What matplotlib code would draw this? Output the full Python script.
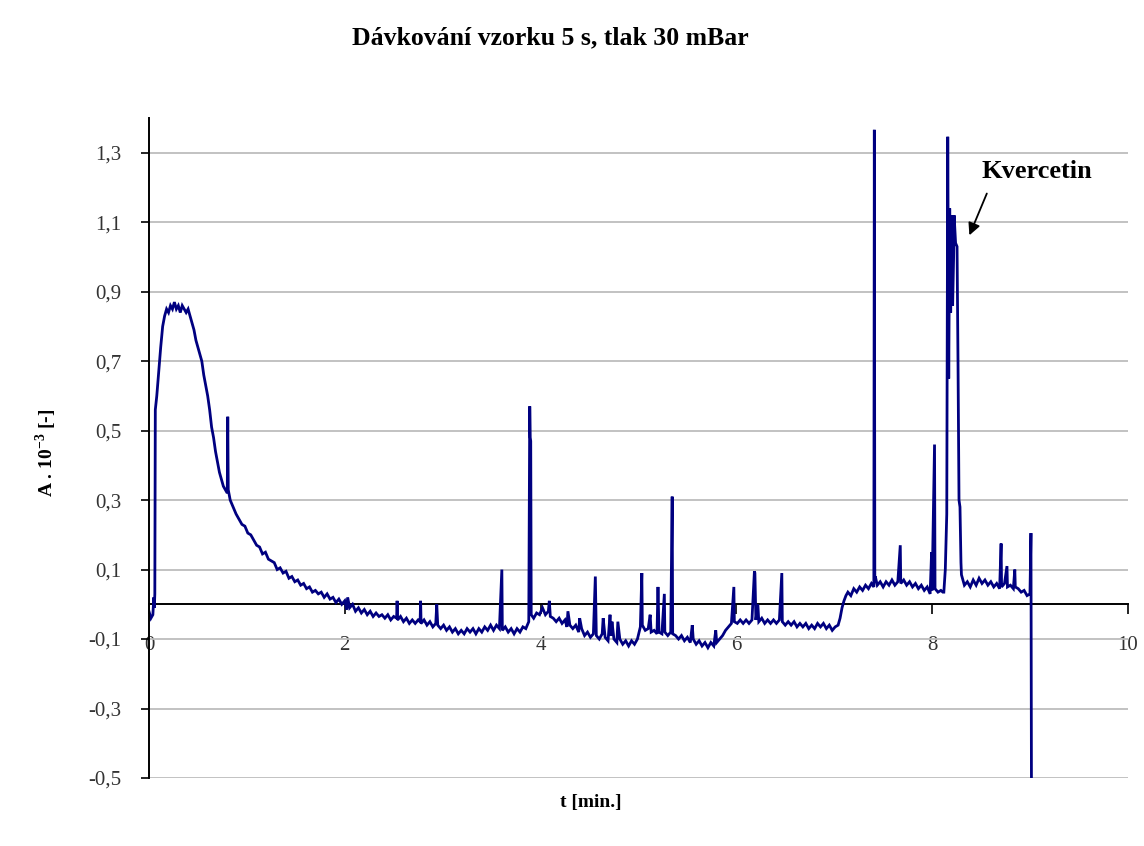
import matplotlib
matplotlib.use("Agg")
import matplotlib.pyplot as plt
import numpy as np
from matplotlib.ticker import FuncFormatter

plt.rcParams['font.family'] = ['Liberation Serif', 'DejaVu Serif']
plt.rcParams['mathtext.fontset'] = 'custom'
plt.rcParams['mathtext.rm'] = 'Liberation Serif:bold'
plt.rcParams['mathtext.bf'] = 'Liberation Serif:bold'

# electropherogram, split into segments (t in min, A . 10^-3)
t_inject = [0.00, 0.02, 0.04, 0.05, 0.055, 0.06, 0.065, 0.08, 0.10, 0.12, 0.14, 0.16,
            0.18, 0.20, 0.22, 0.24, 0.26, 0.28, 0.30, 0.32, 0.34, 0.36, 0.38, 0.40,
            0.42, 0.44, 0.46, 0.48, 0.50, 0.52, 0.54, 0.56, 0.58, 0.60]
a_inject = [-0.02, -0.04, -0.03, 0.02, -0.01, 0.03, 0.56, 0.60, 0.67, 0.74, 0.80, 0.83,
            0.85, 0.84, 0.86, 0.85, 0.87, 0.85, 0.86, 0.84, 0.86, 0.85, 0.84, 0.85,
            0.83, 0.81, 0.79, 0.76, 0.74, 0.72, 0.70, 0.66, 0.63, 0.60]

t_decay = [0.62, 0.64, 0.66, 0.68, 0.70, 0.72, 0.74, 0.76, 0.78, 0.80, 0.805, 0.81,
           0.83, 0.86, 0.89, 0.92, 0.95, 0.98, 1.01, 1.04, 1.07, 1.10, 1.13, 1.16,
           1.19, 1.22, 1.25, 1.28, 1.31, 1.34, 1.37, 1.40, 1.43, 1.46, 1.49, 1.52,
           1.55, 1.58, 1.61, 1.64, 1.67, 1.70, 1.73, 1.76, 1.79, 1.82, 1.85, 1.88,
           1.91, 1.94, 1.97, 2.00, 2.02, 2.03, 2.05, 2.08, 2.11, 2.14, 2.17, 2.20,
           2.23, 2.26, 2.29, 2.32, 2.35, 2.38, 2.41, 2.44, 2.47, 2.50]
a_decay = [0.56, 0.51, 0.48, 0.44, 0.41, 0.38, 0.36, 0.34, 0.33, 0.32, 0.54, 0.33,
           0.30, 0.28, 0.26, 0.245, 0.23, 0.225, 0.205, 0.20, 0.185, 0.17, 0.165, 0.145,
           0.15, 0.13, 0.125, 0.12, 0.10, 0.105, 0.09, 0.095, 0.075, 0.08, 0.065, 0.07,
           0.055, 0.06, 0.045, 0.05, 0.035, 0.04, 0.03, 0.035, 0.02, 0.03, 0.015, 0.02,
           0.005, 0.015, 0.0, 0.01, -0.015, 0.02, -0.01, 0.0, -0.02, -0.01, -0.025, -0.015,
           -0.03, -0.02, -0.035, -0.025, -0.035, -0.03, -0.04, -0.03, -0.045, -0.035]

t_mid = [2.53, 2.535, 2.54, 2.57, 2.60, 2.63, 2.66, 2.69, 2.72, 2.75, 2.77, 2.775,
         2.78, 2.81, 2.84, 2.87, 2.90, 2.93, 2.94, 2.95, 2.98, 3.01, 3.04, 3.07,
         3.10, 3.13, 3.16, 3.19, 3.22, 3.25, 3.28, 3.31, 3.34, 3.37, 3.40, 3.43,
         3.46, 3.49, 3.52, 3.55, 3.58, 3.605, 3.61, 3.64, 3.67, 3.70, 3.73, 3.76,
         3.79, 3.82, 3.85, 3.88, 3.89, 3.895, 3.90, 3.905, 3.93, 3.96, 3.99, 4.02,
         4.05, 4.08, 4.09, 4.10, 4.13, 4.16, 4.19, 4.22, 4.25, 4.27, 4.28, 4.30,
         4.33, 4.36, 4.39, 4.40, 4.42, 4.45, 4.48, 4.51, 4.54, 4.56, 4.57, 4.60,
         4.63, 4.64, 4.66, 4.69, 4.71, 4.72, 4.73, 4.75, 4.78, 4.79, 4.81, 4.84,
         4.87, 4.90, 4.93, 4.96, 4.99]
a_mid = [-0.04, 0.01, -0.045, -0.035, -0.05, -0.04, -0.055, -0.045, -0.055, -0.045, -0.05, 0.01,
         -0.055, -0.045, -0.06, -0.05, -0.065, -0.055, 0.0, -0.06, -0.07, -0.06, -0.075, -0.065,
         -0.08, -0.07, -0.085, -0.075, -0.085, -0.07, -0.08, -0.07, -0.085, -0.07, -0.08, -0.065,
         -0.075, -0.06, -0.075, -0.06, -0.07, 0.10, -0.075, -0.065, -0.08, -0.07, -0.085, -0.07,
         -0.08, -0.065, -0.07, -0.05, 0.57, 0.48, 0.47, -0.03, -0.04, -0.025, -0.03, -0.01,
         -0.03, -0.02, 0.01, -0.035, -0.04, -0.05, -0.04, -0.055, -0.045, -0.065, -0.02, -0.06,
         -0.07, -0.06, -0.08, -0.04, -0.07, -0.09, -0.08, -0.095, -0.085, 0.08, -0.09, -0.10,
         -0.085, -0.04, -0.095, -0.105, -0.03, -0.09, -0.05, -0.10, -0.11, -0.05, -0.10, -0.115,
         -0.105, -0.12, -0.105, -0.115, -0.10]

t_late = [5.02, 5.035, 5.04, 5.07, 5.10, 5.12, 5.13, 5.16, 5.19, 5.20, 5.21, 5.24,
          5.265, 5.27, 5.30, 5.33, 5.345, 5.35, 5.38, 5.41, 5.44, 5.47, 5.50, 5.53,
          5.55, 5.56, 5.59, 5.62, 5.65, 5.68, 5.71, 5.74, 5.77, 5.79, 5.80, 5.83,
          5.86, 5.89, 5.92, 5.95, 5.975, 5.98, 6.01, 6.04, 6.07, 6.10, 6.13, 6.16,
          6.185, 6.19, 6.20, 6.22, 6.23, 6.26, 6.29, 6.32, 6.35, 6.38, 6.41, 6.44,
          6.465, 6.47, 6.50, 6.53, 6.56, 6.59, 6.62, 6.65, 6.68, 6.71, 6.74, 6.77,
          6.80, 6.83, 6.86, 6.89, 6.92, 6.95, 6.98, 7.01, 7.04]
a_late = [-0.065, 0.09, -0.06, -0.075, -0.07, -0.03, -0.08, -0.075, -0.085, 0.05, -0.08, -0.085,
          0.03, -0.08, -0.09, -0.08, 0.31, -0.085, -0.09, -0.10, -0.09, -0.105, -0.095, -0.11,
          -0.06, -0.10, -0.115, -0.105, -0.12, -0.11, -0.125, -0.11, -0.12, -0.075, -0.11, -0.10,
          -0.09, -0.075, -0.065, -0.055, 0.05, -0.05, -0.055, -0.045, -0.055, -0.045, -0.055, -0.045,
          0.095, 0.09, -0.045, 0.0, -0.05, -0.04, -0.055, -0.045, -0.055, -0.045, -0.055, -0.045,
          0.09, -0.05, -0.06, -0.05, -0.06, -0.05, -0.065, -0.055, -0.065, -0.055, -0.07, -0.06,
          -0.07, -0.055, -0.065, -0.055, -0.07, -0.06, -0.075, -0.065, -0.06]

t_plateau = [7.06, 7.08, 7.10, 7.12, 7.14, 7.17, 7.20, 7.23, 7.26, 7.29, 7.32, 7.35,
             7.38, 7.405, 7.41, 7.415, 7.42, 7.44, 7.47, 7.50, 7.53, 7.56, 7.59, 7.62,
             7.65, 7.675, 7.68, 7.71, 7.74, 7.77, 7.80, 7.83, 7.86, 7.89, 7.92, 7.95,
             7.98, 7.995, 8.00, 8.025, 8.03, 8.06, 8.09, 8.11]
a_plateau = [-0.04, -0.01, 0.01, 0.025, 0.035, 0.025, 0.045, 0.035, 0.05, 0.04, 0.055, 0.045,
             0.06, 0.05, 1.366, 0.07, 0.08, 0.055, 0.065, 0.05, 0.065, 0.055, 0.07, 0.055,
             0.065, 0.17, 0.06, 0.07, 0.055, 0.065, 0.05, 0.06, 0.045, 0.055, 0.04, 0.05,
             0.03, 0.15, 0.04, 0.46, 0.045, 0.035, 0.04, 0.035]

t_kvercetin = [8.12, 8.135, 8.15, 8.16, 8.17, 8.18, 8.19, 8.20, 8.21, 8.22, 8.225, 8.24,
               8.255, 8.265, 8.275, 8.285, 8.295, 8.30, 8.33]
a_kvercetin = [0.035, 0.10, 0.26, 1.346, 0.65, 1.14, 0.84, 1.12, 0.86, 1.00, 1.12, 1.04,
               1.03, 0.69, 0.30, 0.28, 0.12, 0.085, 0.055]

t_tail = [8.36, 8.39, 8.42, 8.45, 8.48, 8.51, 8.54, 8.57, 8.60, 8.63, 8.66, 8.69,
          8.705, 8.71, 8.74, 8.765, 8.77, 8.80, 8.83, 8.845, 8.85, 8.88, 8.91, 8.94,
          8.97, 9.00, 9.01, 9.015]
a_tail = [0.065, 0.05, 0.07, 0.055, 0.075, 0.06, 0.07, 0.055, 0.065, 0.05, 0.06, 0.045,
          0.175, 0.05, 0.06, 0.11, 0.05, 0.055, 0.045, 0.10, 0.05, 0.045, 0.035, 0.04,
          0.025, 0.03, 0.205, -0.507]

t = np.concatenate([t_inject, t_decay, t_mid, t_late, t_plateau, t_kvercetin, t_tail])
a = np.concatenate([a_inject, a_decay, a_mid, a_late, a_plateau, a_kvercetin, a_tail])

y_ticks = [-0.5, -0.3, -0.1, 0.1, 0.3, 0.5, 0.7, 0.9, 1.1, 1.3]
x_ticks = [0, 2, 4, 6, 8, 10]

fig = plt.figure(figsize=(11.44, 8.46), dpi=100)
ax = fig.add_axes([0.1302, 0.0804, 0.8557, 0.7801])

ax.plot(t, a, color='#000080', lw=2.0, solid_joinstyle='miter')

ax.set_xlim(0, 10)
ax.set_ylim(-0.5, 1.4)
ax.set_yticks(y_ticks)
ax.set_xticks(x_ticks)
comma = FuncFormatter(lambda v, p: ('%g' % round(v, 2)).replace('.', ','))
ax.yaxis.set_major_formatter(comma)
ax.xaxis.set_major_formatter(comma)

ax.yaxis.grid(True, color='#bdbdbd', lw=1.3)
ax.set_axisbelow(True)
for s in ['top', 'right']:
    ax.spines[s].set_visible(False)
ax.spines['left'].set_linewidth(1.4)
ax.spines['bottom'].set_position(('data', 0))
ax.spines['bottom'].set_linewidth(1.4)
ax.spines['bottom'].set_zorder(1)

ax.tick_params(axis='y', direction='out', length=6, width=1.2, pad=14,
               labelsize=15, labelcolor='#333333')
ax.tick_params(axis='x', direction='out', length=7, width=1.2, pad=16,
               labelsize=15, labelcolor='#333333')

fig.text(0.481, 0.955, 'Dávkování vzorku 5 s, tlak 30 mBar', ha='center', va='center',
         fontsize=18.5, fontweight='bold')
fig.text(0.5166, 0.051, 't [min.]', ha='center', va='center', fontsize=14, fontweight='bold')
fig.text(0.040, 0.465, r'A . 10$^{-3}$ [-]', ha='center', va='center', rotation=90,
         fontsize=14, fontweight='bold')

ax.text(9.07, 1.245, 'Kvercetin', ha='center', va='center', fontsize=19, fontweight='bold')
ax.annotate('', xy=(8.37, 1.055), xytext=(8.57, 1.19),
            arrowprops=dict(arrowstyle='-|>', color='black', lw=1.3, mutation_scale=18))

fig.savefig('out.png', dpi=100)
